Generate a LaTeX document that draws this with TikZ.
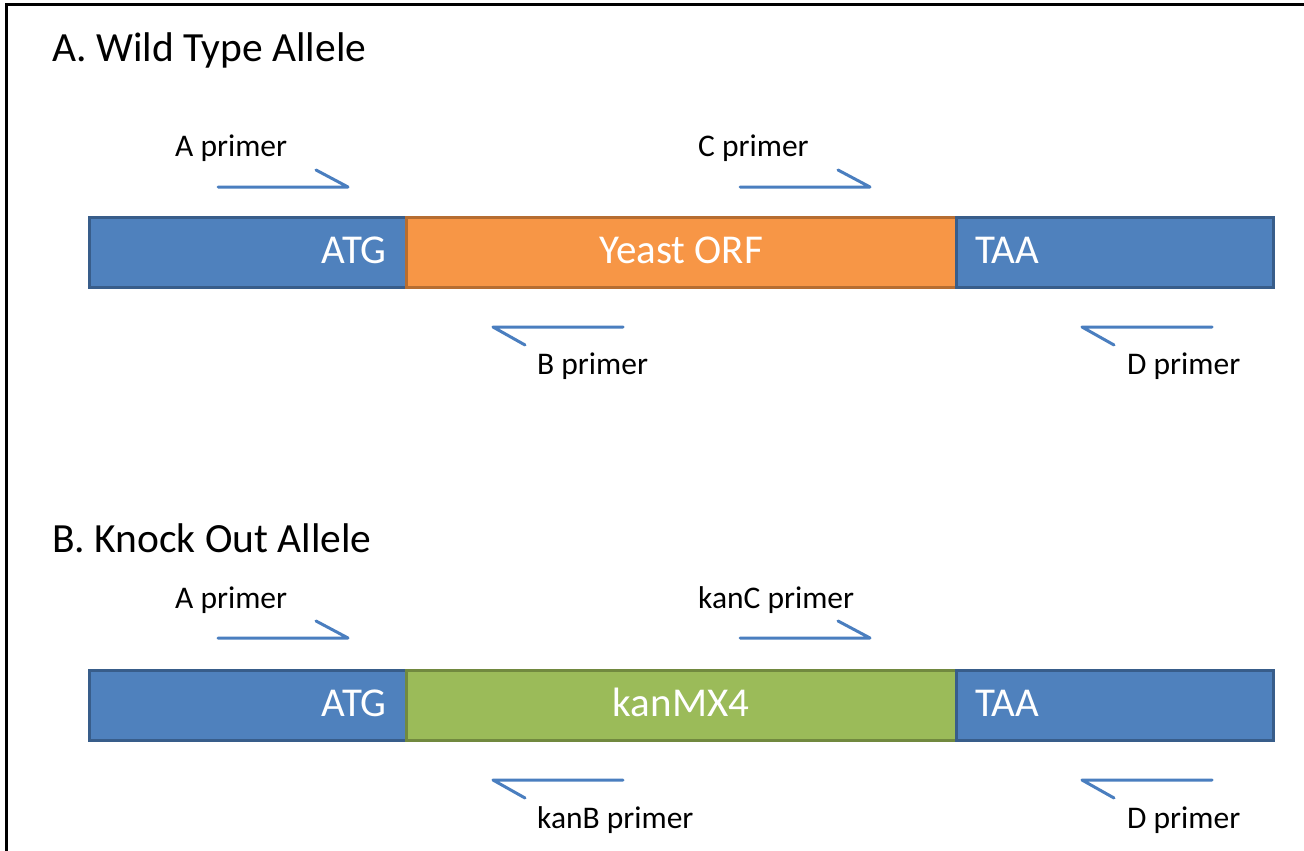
\documentclass[tikz,border=0pt]{standalone}
\usepackage{fontspec}
\setmainfont{Carlito}
\definecolor{flankblue}{HTML}{4F81BD}
\definecolor{flankedge}{HTML}{385D8A}
\definecolor{orffill}{HTML}{F79646}
\definecolor{orfedge}{HTML}{B66D31}
\definecolor{kanfill}{HTML}{9BBB59}
\definecolor{kanedge}{HTML}{71893F}
\definecolor{primerblue}{HTML}{4A7EBF}
\begin{document}
\begin{tikzpicture}[x=1pt,y=-1pt,
  seg/.style={draw, line width=2.5pt, rectangle, inner sep=0pt, anchor=north west, minimum height=70pt},
  flank/.style={seg, fill=flankblue, draw=flankedge, minimum width=317pt},
  orf/.style={seg, fill=orffill, draw=orfedge, minimum width=550pt},
  kan/.style={seg, fill=kanfill, draw=kanedge, minimum width=550pt},
  seglabel/.style={text=white, font=\fontsize{41}{44}\selectfont, inner sep=0pt},
  title/.style={anchor=base west, inner sep=0pt, font=\fontsize{41.5}{46}\selectfont},
  primerlabel/.style={anchor=base west, inner sep=0pt, font=\fontsize{31.5}{34}\selectfont},
  primer/.style={draw=primerblue, line width=3pt, line cap=round, line join=round}
]
\useasboundingbox (0,0) rectangle (1304,851);
\fill[white] (0,0) rectangle (1304,851);

% frame
\draw[line width=3pt] (6,851) -- (6,5) -- (1304,5);

% ---------------- A. wild type allele ----------------
\node[title] (titleA) at (52,62) {A. Wild Type Allele};

\node[flank] (wtL) at (88,216) {};
\node[orf] (wtM) at (405,216) {};
\node[flank] (wtR) at (955,216) {};
\node[seglabel, anchor=base east] (wtATG) at (387,263) {ATG};
\node[seglabel, anchor=base] (wtORF) at (681,263) {Yeast ORF};
\node[seglabel, anchor=base west] (wtTAA) at (975,263) {TAA};

% forward primers
\coordinate (aS) at (218,187); \coordinate (aE) at (348,187); \coordinate (aB) at (316,170);
\draw[primer] (aS) -- (aE) -- (aB);
\node[primerlabel] (aLab) at (175,156) {A primer};
\coordinate (cS) at (740,187); \coordinate (cE) at (870,187); \coordinate (cB) at (838,170);
\draw[primer] (cS) -- (cE) -- (cB);
\node[primerlabel] (cLab) at (698,156) {C primer};

% reverse primers
\coordinate (bS) at (623,327); \coordinate (bE) at (493,327); \coordinate (bB) at (525,345);
\draw[primer] (bS) -- (bE) -- (bB);
\node[primerlabel] (bLab) at (537,374) {B primer};
\coordinate (dS) at (1212,327); \coordinate (dE) at (1082,327); \coordinate (dB) at (1114,345);
\draw[primer] (dS) -- (dE) -- (dB);
\node[primerlabel] (dLab) at (1127,374) {D primer};

% ---------------- B. knock out allele ----------------
\node[title] (titleB) at (52,552) {B. Knock Out Allele};

\node[flank] (koL) at (88,669) {};
\node[kan] (koM) at (405,669) {};
\node[flank] (koR) at (955,669) {};
\node[seglabel, anchor=base east] (koATG) at (387,716) {ATG};
\node[seglabel, anchor=base] (koKan) at (681,716) {kanMX4};
\node[seglabel, anchor=base west] (koTAA) at (975,716) {TAA};

\coordinate (a2S) at (218,638); \coordinate (a2E) at (348,638); \coordinate (a2B) at (316,621);
\draw[primer] (a2S) -- (a2E) -- (a2B);
\node[primerlabel] (a2Lab) at (175,608) {A primer};
\coordinate (kcS) at (740,638); \coordinate (kcE) at (870,638); \coordinate (kcB) at (838,621);
\draw[primer] (kcS) -- (kcE) -- (kcB);
\node[primerlabel] (kcLab) at (698,608) {kanC primer};

\coordinate (kbS) at (623,780); \coordinate (kbE) at (493,780); \coordinate (kbB) at (525,798);
\draw[primer] (kbS) -- (kbE) -- (kbB);
\node[primerlabel] (kbLab) at (537,828) {kanB primer};
\coordinate (d2S) at (1212,780); \coordinate (d2E) at (1082,780); \coordinate (d2B) at (1114,798);
\draw[primer] (d2S) -- (d2E) -- (d2B);
\node[primerlabel] (d2Lab) at (1127,828) {D primer};
\end{tikzpicture}
\end{document}
